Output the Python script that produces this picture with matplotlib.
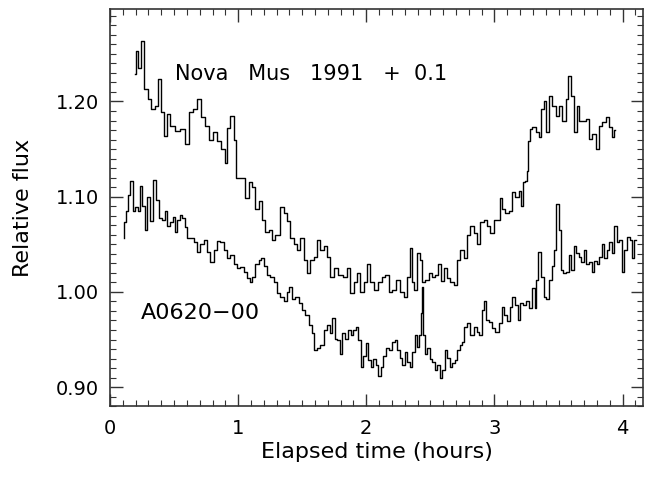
import matplotlib
matplotlib.use("Agg")
import matplotlib.pyplot as plt
import numpy as np
from matplotlib.ticker import MultipleLocator, FormatStrFormatter

# Nova Mus 1991 light curve (plotted with +0.1 offset)
nova_t = [0.195, 0.211, 0.227, 0.250, 0.273, 0.313, 0.328, 0.367, 0.383, 0.406,
          0.430, 0.453, 0.484, 0.523, 0.563, 0.602, 0.625, 0.664, 0.695, 0.719,
          0.758, 0.781, 0.820, 0.844, 0.883, 0.906, 0.922, 0.953, 0.977, 0.992,
          1.031, 1.070, 1.094, 1.117, 1.148, 1.172, 1.195, 1.227, 1.250, 1.273,
          1.305, 1.344, 1.367, 1.391, 1.422, 1.445, 1.469, 1.500, 1.523, 1.547,
          1.578, 1.602, 1.625, 1.656, 1.680, 1.703, 1.734, 1.758, 1.797, 1.836,
          1.859, 1.891, 1.914, 1.938, 1.969, 1.992, 2.016, 2.047, 2.070, 2.109,
          2.133, 2.164, 2.188, 2.211, 2.250, 2.281, 2.305, 2.328, 2.352, 2.367,
          2.383, 2.406, 2.430, 2.445, 2.477, 2.500, 2.523, 2.555, 2.570, 2.594,
          2.617, 2.641, 2.672, 2.695, 2.719, 2.750, 2.773, 2.797, 2.828, 2.852,
          2.875, 2.906, 2.930, 2.953, 2.984, 3.008, 3.031, 3.055, 3.070, 3.102,
          3.125, 3.148, 3.180, 3.203, 3.219, 3.234, 3.250, 3.258, 3.266, 3.281,
          3.305, 3.336, 3.352, 3.375, 3.398, 3.414, 3.438, 3.461, 3.492, 3.516,
          3.539, 3.570, 3.578, 3.609, 3.633, 3.648, 3.672, 3.695, 3.727, 3.750,
          3.773, 3.805, 3.828, 3.852, 3.883, 3.906, 3.922, 3.938]
nova_flux = [1.129, 1.153, 1.135, 1.163, 1.113, 1.103, 1.092, 1.095, 1.124, 1.089,
             1.064, 1.087, 1.074, 1.069, 1.071, 1.055, 1.089, 1.092, 1.103, 1.084,
             1.074, 1.060, 1.068, 1.058, 1.050, 1.035, 1.072, 1.085, 1.060, 1.020,
             1.020, 0.999, 1.015, 1.010, 0.987, 0.995, 0.976, 0.963, 0.965, 0.955,
             0.960, 0.989, 0.983, 0.974, 0.957, 0.950, 0.944, 0.957, 0.934, 0.920,
             0.934, 0.937, 0.955, 0.944, 0.948, 0.937, 0.916, 0.925, 0.918, 0.916,
             0.925, 0.899, 0.910, 0.920, 0.900, 0.910, 0.929, 0.910, 0.902, 0.910,
             0.916, 0.918, 0.900, 0.902, 0.913, 0.900, 0.895, 0.916, 0.946, 0.910,
             0.902, 0.941, 0.934, 0.910, 0.913, 0.920, 0.916, 0.918, 0.929, 0.911,
             0.925, 0.915, 0.910, 0.907, 0.934, 0.944, 0.936, 0.960, 0.969, 0.962,
             0.950, 0.973, 0.976, 0.969, 0.962, 0.976, 0.976, 0.999, 0.987, 0.983,
             0.985, 1.005, 1.000, 1.006, 0.990, 1.015, 1.016, 1.027, 1.058, 1.071,
             1.073, 1.068, 1.063, 1.092, 1.100, 1.068, 1.106, 1.095, 1.085, 1.095,
             1.079, 1.103, 1.127, 1.106, 1.068, 1.095, 1.080, 1.080, 1.082, 1.061,
             1.066, 1.050, 1.074, 1.078, 1.084, 1.073, 1.063, 1.070]
nova_offset = 0.1

# A0620-00 light curve
a0620_t = [0.109, 0.117, 0.133, 0.148, 0.172, 0.180, 0.211, 0.227, 0.242, 0.258,
           0.281, 0.297, 0.328, 0.344, 0.367, 0.391, 0.414, 0.438, 0.453, 0.484,
           0.500, 0.516, 0.531, 0.555, 0.570, 0.594, 0.609, 0.641, 0.664, 0.688,
           0.719, 0.742, 0.766, 0.797, 0.820, 0.844, 0.875, 0.898, 0.922, 0.953,
           0.977, 1.000, 1.031, 1.055, 1.078, 1.102, 1.117, 1.148, 1.172, 1.188,
           1.211, 1.234, 1.266, 1.289, 1.313, 1.344, 1.367, 1.391, 1.406, 1.430,
           1.461, 1.484, 1.508, 1.539, 1.563, 1.586, 1.602, 1.625, 1.656, 1.680,
           1.703, 1.727, 1.742, 1.766, 1.781, 1.805, 1.820, 1.852, 1.867, 1.891,
           1.906, 1.930, 1.945, 1.969, 1.984, 2.008, 2.023, 2.047, 2.063, 2.086,
           2.102, 2.125, 2.141, 2.164, 2.188, 2.211, 2.234, 2.250, 2.273, 2.289,
           2.313, 2.328, 2.352, 2.367, 2.391, 2.406, 2.422, 2.430, 2.438, 2.445,
           2.469, 2.484, 2.508, 2.523, 2.547, 2.563, 2.586, 2.602, 2.625, 2.641,
           2.664, 2.680, 2.703, 2.719, 2.742, 2.758, 2.773, 2.797, 2.828, 2.852,
           2.875, 2.891, 2.914, 2.930, 2.945, 2.969, 2.992, 3.023, 3.047, 3.063,
           3.086, 3.109, 3.133, 3.148, 3.172, 3.188, 3.211, 3.227, 3.258, 3.281,
           3.305, 3.320, 3.336, 3.344, 3.375, 3.398, 3.414, 3.438, 3.453, 3.469,
           3.492, 3.508, 3.523, 3.539, 3.570, 3.586, 3.609, 3.625, 3.648, 3.664,
           3.688, 3.703, 3.727, 3.750, 3.766, 3.789, 3.805, 3.828, 3.844, 3.867,
           3.883, 3.906, 3.922, 3.945, 3.961, 3.984, 4.000, 4.023, 4.047, 4.063,
           4.078, 4.102]
a0620_flux = [1.057, 1.073, 1.085, 1.102, 1.116, 1.085, 1.089, 1.085, 1.111, 1.090,
              1.065, 1.100, 1.074, 1.118, 1.097, 1.078, 1.076, 1.085, 1.069, 1.073,
              1.079, 1.063, 1.076, 1.081, 1.078, 1.068, 1.057, 1.057, 1.052, 1.042,
              1.050, 1.055, 1.042, 1.031, 1.044, 1.053, 1.052, 1.044, 1.036, 1.039,
              1.029, 1.025, 1.026, 1.021, 1.015, 1.010, 1.016, 1.029, 1.034, 1.036,
              1.027, 1.018, 1.016, 1.010, 0.999, 0.995, 0.990, 1.000, 1.005, 0.993,
              0.995, 0.988, 0.981, 0.976, 0.965, 0.957, 0.939, 0.941, 0.944, 0.960,
              0.965, 0.957, 0.973, 0.951, 0.949, 0.935, 0.957, 0.951, 0.960, 0.955,
              0.960, 0.963, 0.949, 0.921, 0.933, 0.946, 0.928, 0.921, 0.930, 0.923,
              0.912, 0.921, 0.933, 0.941, 0.939, 0.947, 0.949, 0.939, 0.931, 0.923,
              0.937, 0.926, 0.921, 0.937, 0.955, 0.942, 0.955, 0.978, 1.005, 0.955,
              0.935, 0.941, 0.930, 0.926, 0.918, 0.923, 0.910, 0.918, 0.939, 0.931,
              0.921, 0.925, 0.928, 0.939, 0.944, 0.947, 0.963, 0.967, 0.955, 0.963,
              0.958, 0.955, 0.981, 0.990, 0.970, 0.968, 0.962, 0.958, 0.967, 0.984,
              0.976, 0.969, 0.984, 0.995, 0.986, 0.970, 0.988, 0.986, 0.990, 0.983,
              1.004, 0.983, 1.013, 1.042, 1.016, 0.995, 0.993, 1.013, 1.027, 1.044,
              1.092, 1.065, 1.023, 1.020, 1.021, 1.039, 1.023, 1.048, 1.041, 1.037,
              1.031, 1.044, 1.029, 1.031, 1.021, 1.032, 1.029, 1.037, 1.050, 1.036,
              1.044, 1.052, 1.041, 1.069, 1.052, 1.055, 1.021, 1.044, 1.058, 1.055,
              1.036, 1.055]

plt.rcParams['font.family'] = ['DejaVu Sans']
c = '#333333'

fig = plt.figure(figsize=(6.47, 4.79), dpi=100)
ax = fig.add_axes([0.170, 0.152, 0.824, 0.829])

ax.plot(nova_t, np.array(nova_flux) + nova_offset, color='k', lw=1.0,
        drawstyle='steps-mid')
ax.plot(a0620_t, a0620_flux, color='k', lw=1.0, drawstyle='steps-mid')

ax.text(0.51, 1.229, "Nova   Mus   1991   +  0.1", fontsize=15,
        va='center', ha='left')
ax.text(0.24, 0.978, "A0620\u221200", fontsize=16, va='center', ha='left')

ax.set_xlim(0, 4.16)
ax.set_ylim(0.88, 1.297)
ax.xaxis.set_major_locator(MultipleLocator(1))
ax.xaxis.set_minor_locator(MultipleLocator(0.1))
ax.yaxis.set_major_locator(MultipleLocator(0.1))
ax.yaxis.set_minor_locator(MultipleLocator(0.01))
ax.yaxis.set_major_formatter(FormatStrFormatter('%.2f'))
ax.tick_params(which='both', direction='in', top=True, right=True,
               labelsize=14, color=c)
ax.tick_params(which='major', length=9, width=1.0)
ax.tick_params(which='minor', length=4, width=0.8)
ax.tick_params(axis='x', pad=9)
ax.tick_params(axis='y', pad=8)
for s in ax.spines.values():
    s.set_color(c)
    s.set_linewidth(1.2)

ax.set_xlabel("Elapsed time (hours)", fontsize=16, labelpad=3)
ax.set_ylabel("Relative flux", fontsize=16, labelpad=16)

fig.savefig("out.png", dpi=100)
